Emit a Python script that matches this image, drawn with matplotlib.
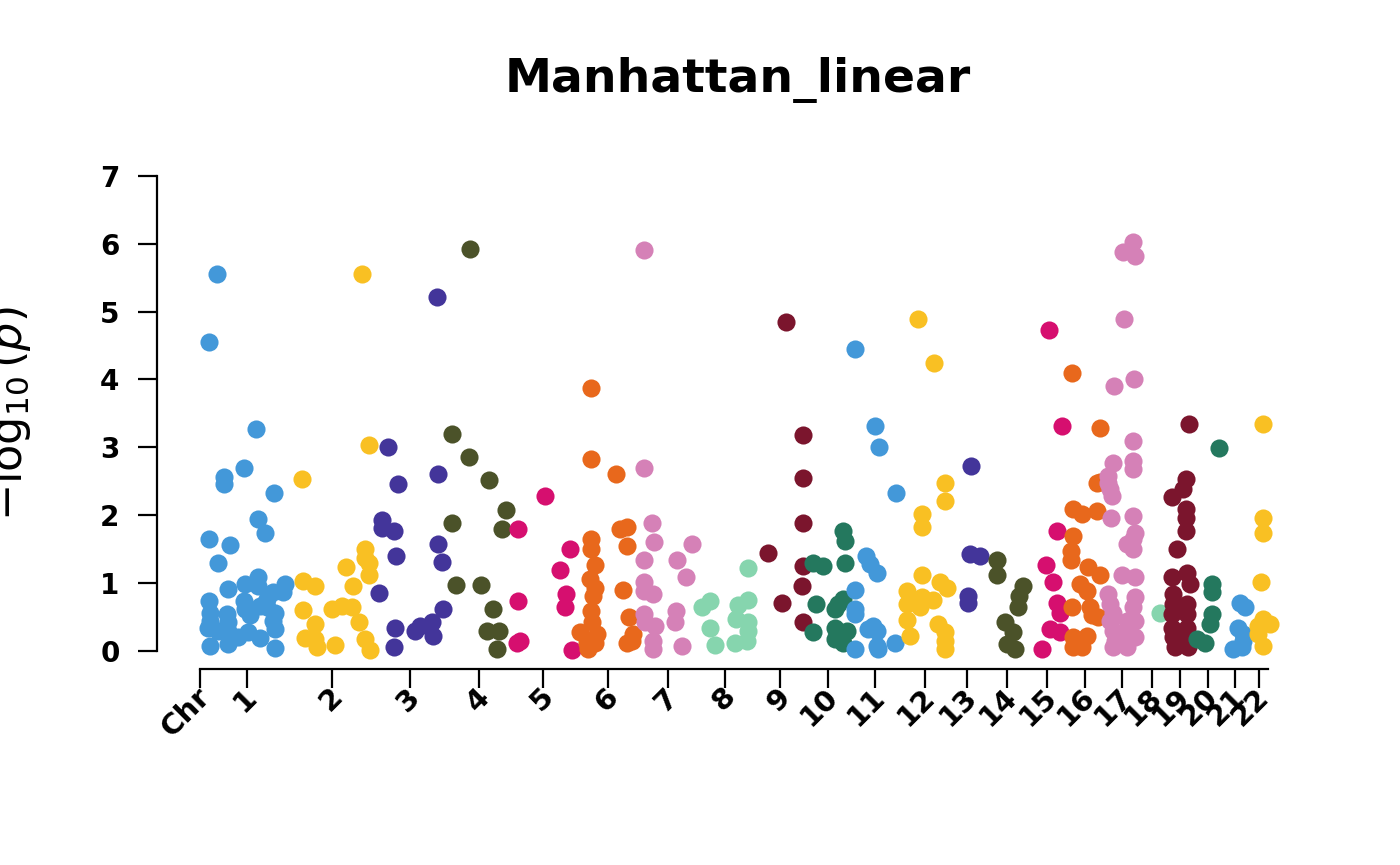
import matplotlib
matplotlib.use("Agg")
import matplotlib.pyplot as plt
from matplotlib.transforms import ScaledTranslation

# cumulative position along the genome (scaled units, Chr start = 0) and -log10(p)
chr1_pos = [17, 9, 56, 44, 24, 24, 74, 58, 65, 9, 30, 18, 28, 9, 45, 58, 58, 85, 83, 73,
            44, 45, 67, 67, 75, 73, 10, 10, 27, 28, 50, 60, 75, 18, 28, 48, 60, 38, 10, 28,
            75, 8]
chr1_logp = [5.56, 4.55, 3.27, 2.69, 2.56, 2.46, 2.32, 1.94, 1.73, 1.65, 1.56, 1.29, 0.91, 0.74,
             0.99, 1.08, 0.96, 0.98, 0.86, 0.86, 0.74, 0.61, 0.76, 0.64, 0.56, 0.44, 0.56, 0.44,
             0.54, 0.42, 0.52, 0.66, 0.32, 0.29, 0.29, 0.27, 0.19, 0.20, 0.07, 0.10, 0.04, 0.34]

chr2_pos = [162, 169, 102, 165, 165, 169, 169, 146, 153, 103, 115, 103, 132, 142, 152, 115,
            159, 105, 115, 165, 170, 135, 117]
chr2_logp = [5.56, 3.04, 2.53, 1.50, 1.37, 1.30, 1.11, 1.24, 0.96, 1.03, 0.96, 0.60, 0.61, 0.66,
             0.65, 0.39, 0.42, 0.18, 0.17, 0.17, 0.01, 0.08, 0.05]

chr3_pos = [237, 188, 198, 238, 182, 182, 194, 196, 238, 242, 179, 243, 195, 220, 232, 233, 194, 215]
chr3_logp = [5.22, 3.00, 2.46, 2.60, 1.93, 1.81, 1.76, 1.40, 1.58, 1.31, 0.85, 0.61, 0.34, 0.37,
             0.42, 0.22, 0.05, 0.29]

chr4_pos = [270, 252, 269, 289, 306, 302, 252, 256, 281, 293, 287, 299, 297]
chr4_logp = [5.92, 3.19, 2.86, 2.52, 2.07, 1.79, 1.88, 0.97, 0.97, 0.61, 0.29, 0.29, 0.03]

chr5_pos = [318, 345, 318, 317, 320, 370, 360, 366, 365, 372]
chr5_logp = [1.79, 2.28, 0.73, 0.12, 0.15, 1.50, 1.19, 0.84, 0.64, 0.01]

chr6_pos = [391, 391, 416, 427, 420, 427, 391, 391, 395, 390, 395, 393, 423, 391, 392, 380,
            397, 387, 395, 388, 429, 433, 427, 432]
chr6_logp = [3.88, 2.82, 2.60, 1.82, 1.79, 1.55, 1.65, 1.50, 1.27, 1.06, 0.92, 0.80, 0.90, 0.59,
             0.42, 0.27, 0.25, 0.12, 0.12, 0.03, 0.50, 0.25, 0.12, 0.15]

chr7_pos = [444, 444, 452, 454, 444, 444, 444, 453, 444, 445, 455, 453, 453, 477, 486, 492,
            476, 475, 482]
chr7_logp = [5.91, 2.69, 1.88, 1.61, 1.34, 1.01, 0.88, 0.84, 0.54, 0.42, 0.37, 0.15, 0.02, 1.34,
             1.08, 1.57, 0.59, 0.42, 0.07]

chr8_pos = [502, 510, 510, 515, 548, 548, 538, 536, 548, 548, 535, 547]
chr8_logp = [0.64, 0.74, 0.33, 0.09, 1.22, 0.75, 0.67, 0.47, 0.42, 0.29, 0.12, 0.15]

chr9_pos = [586, 603, 603, 603, 568, 603, 602, 582, 603]
chr9_logp = [4.84, 3.18, 2.55, 1.89, 1.44, 1.25, 0.95, 0.70, 0.43]

chr10_pos = [643, 645, 613, 623, 645, 616, 643, 638, 635, 613, 635, 635, 643, 647, 643]
chr10_logp = [1.77, 1.62, 1.30, 1.25, 1.29, 0.69, 0.76, 0.69, 0.61, 0.27, 0.34, 0.17, 0.25,
              0.29, 0.12]

chr11_pos = [655, 675, 679, 696, 666, 670, 677, 655, 655, 655, 673, 677, 655, 677, 678, 695, 668]
chr11_logp = [4.45, 3.31, 3.01, 2.32, 1.40, 1.28, 1.15, 0.90, 0.61, 0.54, 0.37, 0.29, 0.03,
              0.07, 0.03, 0.11, 0.32]

chr12_pos = [718, 734, 745, 745, 722, 722, 722, 707, 707, 707, 710, 722, 720, 733, 740, 747,
             738, 745, 745, 745]
chr12_logp = [4.89, 4.24, 2.47, 2.21, 2.01, 1.83, 1.12, 0.88, 0.69, 0.45, 0.21, 0.79, 0.64,
              0.75, 1.01, 0.93, 0.39, 0.27, 0.15, 0.03]

chr13_pos = [771, 770, 780, 768, 768]
chr13_logp = [2.73, 1.42, 1.40, 0.81, 0.71]

chr14_pos = [797, 797, 823, 819, 818, 805, 813, 807, 815]
chr14_logp = [1.34, 1.11, 0.96, 0.81, 0.64, 0.43, 0.27, 0.10, 0.03]

chr15_pos = [849, 862, 857, 846, 853, 857, 860, 850, 860, 842]
chr15_logp = [4.73, 3.31, 1.77, 1.26, 1.02, 0.71, 0.56, 0.32, 0.27, 0.02]

chr16_pos = [872, 900, 900, 897, 873, 882, 897, 873, 871, 871, 888, 900, 880, 887, 872, 890,
             892, 898, 873, 887, 873, 882]
chr16_logp = [4.09, 3.28, 2.49, 2.48, 2.09, 2.01, 2.06, 1.69, 1.47, 1.33, 1.23, 1.11, 0.98,
              0.88, 0.64, 0.64, 0.52, 0.49, 0.20, 0.22, 0.05, 0.05]

chr17_pos = [923, 933, 935, 924, 914, 934, 933, 913, 933, 933, 908, 908, 910, 912, 911, 933,
             935, 933, 927, 933, 922, 935, 908, 910, 913, 910, 913, 915, 913, 927, 927, 927,
             935, 933, 935, 935]
chr17_logp = [5.88, 6.02, 5.82, 4.89, 3.91, 4.00, 3.09, 2.77, 2.80, 2.68, 2.58, 2.48, 2.38,
              2.28, 1.96, 1.99, 1.74, 1.65, 1.57, 1.50, 1.11, 1.08, 0.84, 0.69, 0.56, 0.44,
              0.29, 0.15, 0.05, 0.44, 0.25, 0.05, 0.79, 0.64, 0.44, 0.20]

chr18_pos = [960]
chr18_logp = [0.56]

chr19_pos = [989, 986, 983, 972, 986, 986, 986, 977, 972, 987, 990, 973, 973, 972, 972, 973,
             975, 987, 987, 987, 988, 982]
chr19_logp = [3.34, 2.53, 2.38, 2.26, 2.09, 1.96, 1.77, 1.50, 1.08, 1.15, 0.98, 0.84, 0.69,
              0.54, 0.34, 0.20, 0.05, 0.69, 0.54, 0.34, 0.05, 0.20]

chr20_pos = [1019, 1012, 1012, 1012, 1010, 997, 1005]
chr20_logp = [2.99, 0.98, 0.86, 0.54, 0.39, 0.17, 0.12]

chr21_pos = [1040, 1045, 1038, 1043, 1033, 1042, 1043]
chr21_logp = [0.71, 0.64, 0.34, 0.25, 0.03, 0.05, 0.15]

chr22_pos = [1063, 1063, 1063, 1061, 1063, 1070, 1058, 1058, 1063]
chr22_logp = [3.35, 1.96, 1.74, 1.02, 0.47, 0.39, 0.37, 0.25, 0.07]

tick_labels = ["Chr"] + [str(i) for i in range(1, 23)]
tick_pos = [0, 46.5, 132, 210, 279, 343, 408, 468, 525, 580, 628, 675, 725, 767, 807, 847,
            885, 922, 952, 980, 1008, 1035, 1059]
axis_end = 1068

palette = ["#4398d9", "#f9c023", "#43359a", "#4b5229", "#d60f6f",
           "#e8681c", "#d581b7", "#86d5ae", "#7b152d", "#24785e"]

positions = [chr1_pos, chr2_pos, chr3_pos, chr4_pos, chr5_pos, chr6_pos, chr7_pos, chr8_pos,
             chr9_pos, chr10_pos, chr11_pos, chr12_pos, chr13_pos, chr14_pos, chr15_pos,
             chr16_pos, chr17_pos, chr18_pos, chr19_pos, chr20_pos, chr21_pos, chr22_pos]
logps = [chr1_logp, chr2_logp, chr3_logp, chr4_logp, chr5_logp, chr6_logp, chr7_logp,
         chr8_logp, chr9_logp, chr10_logp, chr11_logp, chr12_logp, chr13_logp, chr14_logp,
         chr15_logp, chr16_logp, chr17_logp, chr18_logp, chr19_logp, chr20_logp, chr21_logp,
         chr22_logp]

plt.rcParams["font.family"] = "DejaVu Sans"
plt.rcParams["mathtext.fontset"] = "dejavusans"

W, H = 1400, 865
fig = plt.figure(figsize=(14, 8.65), dpi=100)
ax = fig.add_axes([157 / W, 1 - 669 / H, (1290 - 157) / W, (669 - 176) / H])

for i, (x, y) in enumerate(zip(positions, logps)):
    ax.scatter(x, y, s=170, color=palette[i % 10], linewidths=0, clip_on=False, zorder=3)

ax.set_xlim(-43, 1090)
ax.set_ylim(-0.27, 7)

for side in ["top", "right"]:
    ax.spines[side].set_visible(False)
ax.spines["left"].set_bounds(0, 7)
ax.spines["bottom"].set_bounds(0, axis_end)
for side in ["left", "bottom"]:
    ax.spines[side].set_linewidth(1.6)

ax.set_yticks(range(0, 8))
ax.set_yticklabels([str(i) for i in range(0, 8)], fontsize=20, fontweight="bold")
ax.tick_params(axis="y", length=14, width=1.6, pad=13)

ax.set_xticks(tick_pos)
ax.set_xticklabels(tick_labels, fontsize=21, fontweight="bold", rotation=45,
                   ha="right", va="center", rotation_mode="anchor")
ax.tick_params(axis="x", length=14, width=1.6, pad=3)
shift = ScaledTranslation(6 / 100, 0, fig.dpi_scale_trans)
for lab in ax.get_xticklabels():
    lab.set_transform(lab.get_transform() + shift)

fig.text(738 / W, 1 - 80 / H, "Manhattan_linear", fontsize=34, fontweight="bold",
         ha="center", va="center")
fig.text(10 / W, 1 - 414 / H, r"$-\log_{10}(p)$", fontsize=32, rotation=90,
         ha="center", va="center")

fig.savefig("out.png", dpi=100)
